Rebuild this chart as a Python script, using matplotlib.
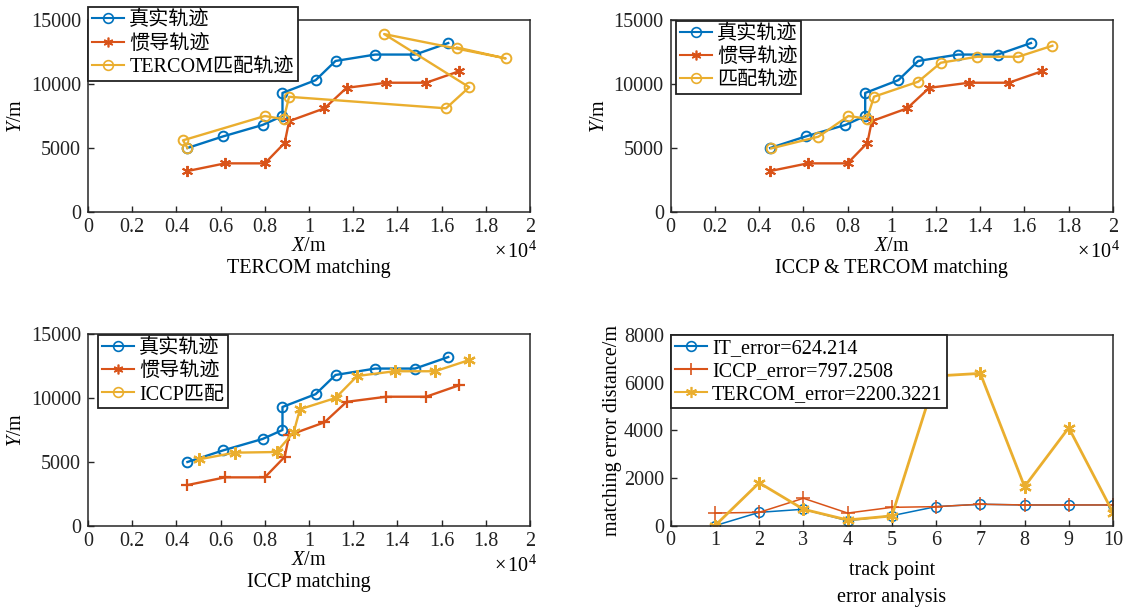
import matplotlib
matplotlib.use("Agg")
import matplotlib.pyplot as plt
from matplotlib.lines import Line2D
from matplotlib.ticker import FuncFormatter

plt.rcParams['font.family'] = ['Liberation Serif', 'Noto Sans CJK SC']
plt.rcParams['mathtext.fontset'] = 'custom'
plt.rcParams['mathtext.rm'] = 'Liberation Serif'
plt.rcParams['mathtext.it'] = 'Liberation Serif:italic'
plt.rcParams['font.size'] = 14.5

# data (m)
true_x = [4500, 6100, 7900, 8800, 8800, 10300, 11200, 13000, 14800, 16300]
true_y = [5000, 5900, 6800, 7500, 9300, 10300, 11800, 12300, 12300, 13200]
ins_x = [4500, 6200, 8000, 8900, 9100, 10700, 11700, 13500, 15300, 16800]
ins_y = [3200, 3800, 3800, 5400, 7100, 8100, 9700, 10100, 10100, 11000]
tercom_x = [4500, 4300, 8000, 8850, 9100, 16200, 17250, 13400, 18900, 16700]
tercom_y = [5000, 5600, 7500, 7250, 9000, 8100, 9750, 13900, 12000, 12850]
it_x = [4550, 6680, 8040, 8880, 9200, 11200, 12220, 13870, 15730, 17270]
it_y = [4970, 5880, 7500, 7290, 9010, 10180, 11660, 12130, 12130, 12990]
iccp_x = [5030, 6640, 8530, 9310, 9590, 11200, 12180, 13870, 15710, 17220]
iccp_y = [5210, 5730, 5780, 7340, 9120, 10000, 11720, 12090, 12090, 12950]

points = [1, 2, 3, 4, 5, 6, 7, 8, 9, 10]
it_err = [0, 560, 690, 210, 420, 800, 900, 870, 870, 870]
iccp_err = [530, 560, 1150, 530, 770, 800, 900, 870, 870, 870]
tercom_err = [0, 1800, 690, 240, 410, 6280, 6390, 1640, 4110, 550]

BLUE = '#0072BD'
RED = '#D95319'
YEL = '#EAAE2E'
AX = '#262626'
STAR = (6, 2, 0)

fig = plt.figure(figsize=(11.27, 6.08), dpi=100)
W, H = 1127, 608


def make_ax(l, t, r, b):
    return fig.add_axes([l / W, 1 - b / H, (r - l) / W, (b - t) / H])


def style(ax):
    for s in ax.spines.values():
        s.set_color(AX)
        s.set_linewidth(1.1)
    ax.tick_params(direction='in', length=4, width=1, colors=AX,
                   labelcolor='#222222', top=False, right=False)
    ax.tick_params(axis='x', pad=4)
    ax.tick_params(axis='y', pad=5)


def traj_axes(ax, subtitle):
    style(ax)
    ax.set_xlim(0, 20000)
    ax.set_ylim(0, 15000)
    ax.set_xticks(range(0, 20001, 2000))
    ax.set_yticks([0, 5000, 10000, 15000])
    ax.xaxis.set_major_formatter(FuncFormatter(lambda v, p: f'{v / 1e4:g}'))
    ax.set_ylabel('$\\mathit{Y}$/m')
    ax.yaxis.set_label_coords(-0.14, 0.5)
    ax.text(0.5, -0.18, '$\\mathit{X}$/m', transform=ax.transAxes,
            ha='center', va='center')
    ax.text(0.5, -0.295, subtitle, transform=ax.transAxes,
            ha='center', va='center')
    ax.text(1.016, -0.21, '$\\times\\,10^{4}$', transform=ax.transAxes,
            ha='right', va='center')


def leg(ax, handles, labels, anchor):
    lg = ax.legend(handles, labels, loc='upper left', bbox_to_anchor=anchor,
                   borderaxespad=0, fancybox=False, framealpha=1,
                   edgecolor='#222222', borderpad=0.2, labelspacing=0.2,
                   handlelength=1.6, handletextpad=0.25, fontsize=14.5)
    lg.get_frame().set_linewidth(1.3)
    return lg


def h(color, marker, ms=7):
    return Line2D([], [], color=color, marker=marker, ms=ms, mfc='none',
                  lw=1.5, mew=1.2)


lw = 1.7
ms = 7

# top-left: TERCOM
ax1 = make_ax(88, 20, 530, 212)
traj_axes(ax1, 'TERCOM matching')
ax1.plot(true_x, true_y, color=BLUE, lw=lw, marker='o', ms=ms, mfc='none', mew=1.4)
ax1.plot(ins_x, ins_y, color=RED, lw=lw, marker=STAR, ms=8, mew=1.4)
ax1.plot(tercom_x, tercom_y, color=YEL, lw=lw, marker='o', ms=ms, mfc='none', mew=1.4)
leg(ax1, [h(BLUE, 'o'), h(RED, STAR), h(YEL, 'o')],
    ['真实轨迹', '惯导轨迹', 'TERCOM匹配轨迹'], (0.0, 1.066))

# top-right: ICCP & TERCOM
ax2 = make_ax(670.7, 20, 1112.7, 212)
traj_axes(ax2, 'ICCP & TERCOM matching')
ax2.plot(true_x, true_y, color=BLUE, lw=lw, marker='o', ms=ms, mfc='none', mew=1.4)
ax2.plot(ins_x, ins_y, color=RED, lw=lw, marker=STAR, ms=8, mew=1.4)
ax2.plot(it_x, it_y, color=YEL, lw=lw, marker='o', ms=ms, mfc='none', mew=1.4)
leg(ax2, [h(BLUE, 'o'), h(RED, STAR), h(YEL, 'o')],
    ['真实轨迹', '惯导轨迹', '匹配轨迹'], (0.011, 0.996))

# bottom-left: ICCP
ax3 = make_ax(88, 334, 530, 526)
traj_axes(ax3, 'ICCP matching')
ax3.plot(true_x, true_y, color=BLUE, lw=lw, marker='o', ms=ms, mfc='none', mew=1.4)
ax3.plot(ins_x, ins_y, color=RED, lw=lw, marker='+', ms=9, mew=1.6)
ax3.plot(iccp_x, iccp_y, color=YEL, lw=lw, marker=STAR, ms=9, mew=1.6)
leg(ax3, [h(BLUE, 'o'), h(RED, STAR), h(YEL, 'o')],
    ['真实轨迹', '惯导轨迹', 'ICCP匹配'], (0.022, 0.995))

# bottom-right: error analysis
ax4 = make_ax(670.7, 335, 1113, 525.7)
style(ax4)
ax4.plot(points, it_err, color=BLUE, lw=1.1, marker='o', ms=7, mfc='none', mew=1.1)
ax4.plot(points, iccp_err, color=RED, lw=1.1, marker='+', ms=10, mew=1.1)
ax4.plot(points, tercom_err, color=YEL, lw=2.0, marker=STAR, ms=9, mew=1.6)
ax4.set_xlim(0, 10)
ax4.set_ylim(0, 8000)
ax4.set_xticks(range(0, 11))
ax4.set_yticks([0, 2000, 4000, 6000, 8000])
ax4.set_ylabel('matching error distance/m')
ax4.yaxis.set_label_coords(-0.11, 0.5)
ax4.text(0.5, -0.235, 'track point', transform=ax4.transAxes, ha='center', va='center')
ax4.text(0.5, -0.375, 'error analysis', transform=ax4.transAxes, ha='center', va='center')
leg(ax4, [h(BLUE, 'o'), h(RED, '+', 9), h(YEL, STAR, 8)],
    ['IT_error=624.214', 'ICCP_error=797.2508', 'TERCOM_error=2200.3221'], (0.0, 1.0))

fig.savefig('out.png', dpi=100)
